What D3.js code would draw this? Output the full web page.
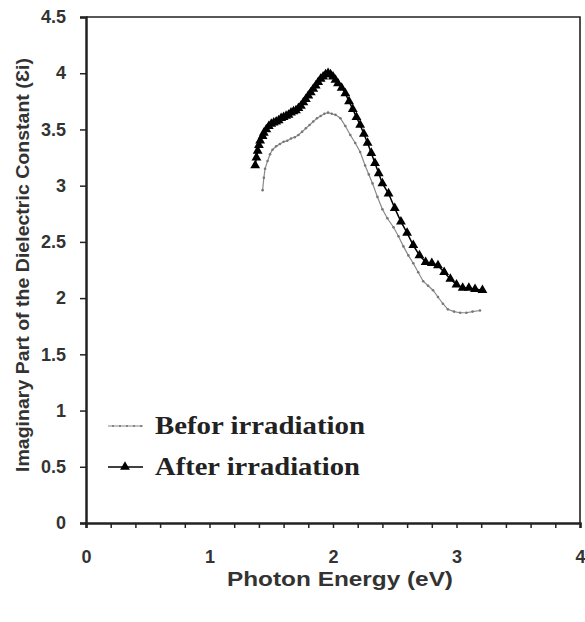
<!DOCTYPE html>
<html>
<head>
<meta charset="utf-8">
<script src="https://cdn.jsdelivr.net/npm/d3@7"></script>
<style>
    body { margin: 0; background: #fff; }
</style>
</head>
<body>
<svg id="chart" width="585" height="622"></svg>
<script>

// photon energy (eV) of the measured points
let energyBefore = [1.43, 1.44, 1.45, 1.47, 1.49, 1.51, 1.54, 1.57, 1.60, 1.63, 1.66, 1.69, 1.72, 1.75,
    1.78, 1.81, 1.84, 1.87, 1.90, 1.93, 1.96, 1.99, 2.02, 2.06, 2.10, 2.14, 2.18, 2.22, 2.26, 2.29,
    2.32, 2.36, 2.40, 2.44, 2.49, 2.53, 2.57, 2.61, 2.65, 2.69, 2.73, 2.77, 2.81, 2.85, 2.89, 2.93,
    2.98, 3.03, 3.08, 3.13, 3.19];
let epsBefore = [2.96, 3.07, 3.15, 3.22, 3.28, 3.32, 3.35, 3.37, 3.39, 3.40, 3.42, 3.43, 3.45, 3.48,
    3.51, 3.54, 3.57, 3.60, 3.62, 3.64, 3.65, 3.64, 3.63, 3.60, 3.53, 3.45, 3.38, 3.30, 3.18, 3.10,
    3.02, 2.90, 2.79, 2.71, 2.63, 2.55, 2.46, 2.38, 2.31, 2.23, 2.15, 2.11, 2.07, 2.01, 1.95, 1.90,
    1.88, 1.87, 1.87, 1.88, 1.89];

let energyAfter = [1.37, 1.38, 1.39, 1.40, 1.41, 1.43, 1.44, 1.46, 1.48, 1.50, 1.52, 1.54, 1.56, 1.58,
    1.60, 1.62, 1.64, 1.66, 1.68, 1.70, 1.72, 1.74, 1.76, 1.78, 1.80, 1.82, 1.84, 1.86, 1.88, 1.90,
    1.92, 1.94, 1.96, 1.98, 2.00, 2.02, 2.04, 2.07, 2.10, 2.13, 2.16, 2.19, 2.22, 2.25, 2.28, 2.31,
    2.34, 2.37, 2.40, 2.45, 2.50, 2.55, 2.60, 2.65, 2.70, 2.75, 2.80, 2.85, 2.90, 2.95, 3.00, 3.05,
    3.10, 3.15, 3.21];
let epsAfter = [3.18, 3.25, 3.31, 3.36, 3.40, 3.44, 3.47, 3.50, 3.53, 3.55, 3.56, 3.57, 3.58, 3.60,
    3.61, 3.62, 3.63, 3.65, 3.66, 3.67, 3.69, 3.71, 3.74, 3.77, 3.80, 3.83, 3.86, 3.89, 3.92, 3.95,
    3.97, 3.99, 4.00, 3.99, 3.97, 3.94, 3.91, 3.87, 3.82, 3.75, 3.68, 3.61, 3.54, 3.46, 3.38, 3.29,
    3.20, 3.11, 3.02, 2.93, 2.80, 2.68, 2.58, 2.47, 2.38, 2.32, 2.31, 2.29, 2.23, 2.17, 2.12, 2.09,
    2.09, 2.08, 2.07];

let xTicks = [0, 1, 2, 3, 4];
let yTicks = [0, 0.5, 1, 1.5, 2, 2.5, 3, 3.5, 4, 4.5];
let legendLabels = ["Befor irradiation", "After irradiation"];


class Chart {
    constructor() {
        this.svg = d3.select("#chart");

        // plot box in pixels
        this.box = {"left": 86, "right": 580, "top": 17, "bottom": 523};

        this.x = d3.scaleLinear().domain([0, 4]).range([this.box.left, this.box.right]);
        this.y = d3.scaleLinear().domain([0, 4.5]).range([this.box.bottom, this.box.top]);

        this.before = energyBefore.map((e, i) => ({"e": e, "v": epsBefore[i]}));
        this.after = energyAfter.map((e, i) => ({"e": e, "v": epsAfter[i]}));
    }

    drawAxes() {
        let svg = this.svg;
        let b = this.box;

        // frame on top and right
        svg.append("path")
            .attr("d", `M${b.left},${b.top}H${b.right}V${b.bottom}`)
            .attr("fill", "none")
            .attr("stroke", "#222")
            .attr("stroke-width", 1.6);

        let xAxis = d3.axisBottom(this.x)
            .tickValues(d3.range(0, 4.01, 0.2))
            .tickSize(5)
            .tickFormat(d => xTicks.includes(Math.round(d * 10) / 10) ? d3.format("d")(d) : "");

        let gx = svg.append("g")
            .attr("transform", `translate(0,${b.bottom})`)
            .call(xAxis);
        gx.select(".domain").attr("stroke", "#222").attr("stroke-width", 2.5);
        gx.selectAll(".tick line").attr("stroke", "#222").attr("stroke-width", 1.5);
        gx.selectAll(".tick text")
            .attr("dy", "1.8em")
            .style("font", "bold 18px 'Liberation Sans', Arial, sans-serif")
            .attr("fill", "#333");

        let yAxis = d3.axisLeft(this.y)
            .tickValues(yTicks)
            .tickSize(6)
            .tickPadding(14)
            .tickFormat(d => d);

        let gy = svg.append("g")
            .attr("transform", `translate(${b.left},0)`)
            .call(yAxis);
        gy.select(".domain").attr("stroke", "#222").attr("stroke-width", 2.5);
        gy.selectAll(".tick line").attr("stroke", "#222").attr("stroke-width", 1.5);
        gy.selectAll(".tick text")
            .style("font", "bold 18px 'Liberation Sans', Arial, sans-serif")
            .attr("fill", "#333");

        // axis titles
        svg.append("text")
            .attr("x", 340)
            .attr("y", 586)
            .attr("text-anchor", "middle")
            .attr("textLength", 226)
            .attr("lengthAdjust", "spacingAndGlyphs")
            .style("font", "bold 21px 'Liberation Sans', Arial, sans-serif")
            .attr("fill", "#333")
            .text("Photon Energy (eV)");

        svg.append("text")
            .attr("transform", "translate(29,265) rotate(-90)")
            .attr("text-anchor", "middle")
            .attr("textLength", 414)
            .attr("lengthAdjust", "spacingAndGlyphs")
            .style("font", "bold 18px 'Liberation Sans', Arial, sans-serif")
            .attr("fill", "#333")
            .text("Imaginary Part of the Dielectric Constant (\u0190i)");
    }

    drawSeries() {
        let line = d3.line().x(d => this.x(d.e)).y(d => this.y(d.v));

        // before: thin grey line with small dots
        this.svg.append("path")
            .datum(this.before)
            .attr("d", line)
            .attr("fill", "none")
            .attr("stroke", "#8a8a8a")
            .attr("stroke-width", 1.2);

        this.svg.append("g").selectAll("circle")
            .data(this.before)
            .enter().append("circle")
            .attr("cx", d => this.x(d.e))
            .attr("cy", d => this.y(d.v))
            .attr("r", 1.3)
            .attr("fill", "#777");

        // after: black line with filled triangles
        this.svg.append("path")
            .datum(this.after)
            .attr("d", line)
            .attr("fill", "none")
            .attr("stroke", "#000")
            .attr("stroke-width", 1.5);

        let tri = d3.symbol().type(d3.symbolTriangle).size(42);
        this.svg.append("g").selectAll("path")
            .data(this.after)
            .enter().append("path")
            .attr("d", tri)
            .attr("transform", d => `translate(${this.x(d.e)},${this.y(d.v)})`)
            .attr("fill", "#000");
    }

    drawLegend() {
        let rows = [426, 467];
        let g = this.svg.append("g");

        g.append("line")
            .attr("x1", 108).attr("x2", 143)
            .attr("y1", rows[0]).attr("y2", rows[0])
            .attr("stroke", "#8a8a8a").attr("stroke-width", 1.2);
        g.selectAll(".ldot").data([113, 120, 127, 134, 141]).enter().append("circle")
            .attr("cx", d => d).attr("cy", rows[0]).attr("r", 1.1).attr("fill", "#777");

        g.append("line")
            .attr("x1", 108).attr("x2", 143)
            .attr("y1", rows[1]).attr("y2", rows[1])
            .attr("stroke", "#000").attr("stroke-width", 1.5);
        g.append("path")
            .attr("d", d3.symbol().type(d3.symbolTriangle).size(42))
            .attr("transform", `translate(125,${rows[1]})`)
            .attr("fill", "#000");

        g.selectAll("text")
            .data(legendLabels)
            .enter().append("text")
            .attr("x", 155)
            .attr("y", (d, i) => rows[i] + 8)
            .attr("textLength", (d, i) => i == 0 ? 210 : 205)
            .attr("lengthAdjust", "spacingAndGlyphs")
            .style("font", "bold 26px 'Liberation Serif', 'Times New Roman', serif")
            .attr("fill", "#222")
            .text(d => d);
    }
}

let chart = new Chart();
chart.drawAxes();
chart.drawSeries();
chart.drawLegend();

</script>
</body>
</html>
